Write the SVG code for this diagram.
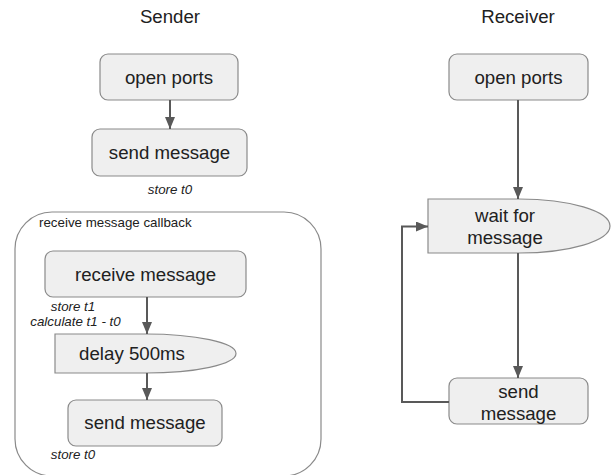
<svg xmlns="http://www.w3.org/2000/svg" width="616" height="475" viewBox="0 0 616 475">
<style>
.box{fill:#efefef;stroke:#8a8a8a;stroke-width:1.2}
.cont{fill:none;stroke:#8a8a8a;stroke-width:1.2}
.t{font-family:"Liberation Sans",Arial,sans-serif;font-size:18.67px;fill:#212121;text-anchor:middle}
.s{font-family:"Liberation Sans",Arial,sans-serif;font-size:13.33px;fill:#212121}
.i{font-style:italic;text-anchor:middle}
.c{fill:none;stroke:#595959;stroke-width:2}
</style>
<defs>
<marker id="ah" viewBox="0 0 12 10" refX="12" refY="5" markerWidth="6" markerHeight="5" orient="auto" markerUnits="strokeWidth">
<path d="M0,0 L12,5 L0,10 Z" fill="#595959"/>
</marker>
</defs>
<rect width="616" height="475" fill="#ffffff"/>
<g id="titles">
<text class="t" x="170" y="23">Sender</text>
<text class="t" x="518" y="23">Receiver</text>
</g>
<g id="callback-container">
<rect class="cont" x="15" y="212" width="306" height="264" rx="37" ry="37"/>
<text class="s" x="39" y="227">receive message callback</text>
</g>
<g id="s-open-ports">
<rect class="box" x="100" y="54" width="138" height="46" rx="8"/>
<text class="t" x="169" y="83.5">open ports</text>
</g>
<g id="s-send-message">
<rect class="box" x="92" y="129" width="155" height="47" rx="8"/>
<text class="t" x="169.5" y="159">send message</text>
<text class="s i" x="170" y="194">store t0</text>
</g>
<g id="s-receive-message">
<rect class="box" x="45" y="251" width="201" height="46" rx="8"/>
<text class="t" x="145.5" y="280.5">receive message</text>
<text class="s i" x="73" y="311">store t1</text>
<text class="s i" x="75.5" y="326">calculate t1 - t0</text>
</g>
<g id="s-delay">
<path class="box" d="M55,334 H145.5 A90.5,19.5 0 0 1 145.5,373 H55 Z"/>
<text class="t" x="132" y="360">delay 500ms</text>
</g>
<g id="s-send-message-2">
<rect class="box" x="68" y="400" width="154" height="46" rx="8"/>
<text class="t" x="145" y="429">send message</text>
<text class="s i" x="73" y="459">store t0</text>
</g>
<g id="r-open-ports">
<rect class="box" x="449" y="54" width="139" height="46" rx="8"/>
<text class="t" x="518.5" y="83.5">open ports</text>
</g>
<g id="r-wait">
<path class="box" d="M428,199 H519 A91,27 0 0 1 519,253 H428 Z"/>
<text class="t" x="505" y="222">wait for</text>
<text class="t" x="505" y="244">message</text>
</g>
<g id="r-send-message">
<rect class="box" x="449" y="378" width="139" height="46" rx="8"/>
<text class="t" x="518.5" y="398">send</text>
<text class="t" x="518.5" y="420">message</text>
</g>
<g id="connectors">
<line class="c" x1="170" y1="100" x2="170" y2="129" marker-end="url(#ah)"/>
<line class="c" x1="147" y1="297" x2="147" y2="334" marker-end="url(#ah)"/>
<line class="c" x1="147" y1="373" x2="147" y2="400" marker-end="url(#ah)"/>
<line class="c" x1="518" y1="100" x2="518" y2="199" marker-end="url(#ah)"/>
<line class="c" x1="518" y1="253" x2="518" y2="378" marker-end="url(#ah)"/>
<polyline class="c" points="449,402 402,402 402,226.5 428,226.5" marker-end="url(#ah)"/>
</g>
</svg>
